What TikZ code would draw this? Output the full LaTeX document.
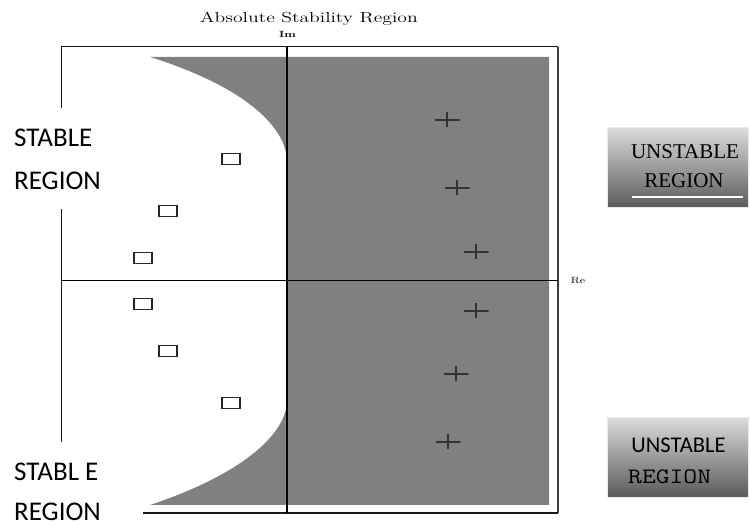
\documentclass[tikz,border=0pt]{standalone}
\usepackage{fontspec}
\newfontfamily\calibrif{Carlito}
\newfontfamily\timesf{Liberation Serif}
\usetikzlibrary{calc}
\tikzset{
  sqmark/.style={draw=black!85, fill=white, line width=1.1pt, minimum width=18pt, minimum height=11pt, inner sep=0pt},
  plusmark/.style={minimum width=25pt, minimum height=15pt, inner sep=0pt,
    path picture={\draw[line width=1.4pt, black!80] (path picture bounding box.west) -- (path picture bounding box.east)
      (path picture bounding box.north) -- (path picture bounding box.south);}},
  sidelabel/.style={font=\calibrif\fontsize{27}{27}\selectfont, inner sep=0pt, anchor=west},
  gradbox/.style={top color=black!14, bottom color=black!65, draw=black!8, line width=1pt, minimum width=141pt, minimum height=80pt, inner sep=0pt},
  frameline/.style={line width=1pt, black!90},
}
\begin{document}
\begin{tikzpicture}[x=1pt,y=1pt]
\useasboundingbox (0,0) rectangle (750,525);
% grey unstable region
\fill[black!50] (150,468) -- (549,468) -- (549,20) -- (150,20)
  .. controls (240,50) and (287,90) .. (287,125) -- (287,363)
  .. controls (287,400) and (240,440) .. (150,468) -- cycle;
% frame
\coordinate (tl) at (61,478);
\coordinate (tr) at (558,478);
\coordinate (br) at (558,12);
\coordinate (bl) at (143,12);
\coordinate (l1) at (61,417);
\coordinate (l2) at (61,316);
\coordinate (l3) at (61,83);
\draw[frameline] (l1) -- (tl) -- (tr);
\draw[line width=2pt, black!75] (tr) -- (br);
\draw[line width=1.4pt, black!90] (br) -- (bl);
\draw[frameline] (l2) -- (l3);
% axes
\coordinate (imtop) at (287,478);
\coordinate (imbot) at (287,12);
\coordinate (releft) at (61,244);
\coordinate (reright) at (558,244);
\draw[line width=1.2pt] (imtop) -- (imbot);
\draw[line width=1pt] (releft) -- (reright);
% labels
\node[inner sep=0pt] (title) at (309,506) {\scalebox{1.36}[1]{\fontsize{14.5}{14.5}\selectfont Absolute Stability Region}};
\node[inner sep=0pt] (im) at (287.5,490.5) {\scalebox{1.3}[1]{\fontsize{9}{9}\selectfont\bfseries Im}};
\node[inner sep=0pt] (re) at (578,244) {\scalebox{1.3}[1]{\fontsize{9}{9}\selectfont Re}};
% square markers
\node[sqmark] (s1) at (231,366) {};
\node[sqmark] (s2) at (168,314) {};
\node[sqmark] (s3) at (143,267) {};
\node[sqmark] (s4) at (143,221) {};
\node[sqmark] (s5) at (168,174) {};
\node[sqmark] (s6) at (231,122) {};
% plus markers
\node[plusmark] (p1) at (447,405) {};
\node[plusmark] (p2) at (457,337) {};
\node[plusmark] (p3) at (476,273) {};
\node[plusmark] (p4) at (476,214) {};
\node[plusmark] (p5) at (456,151) {};
\node[plusmark] (p6) at (448,83) {};
% stable labels
\node[sidelabel] (st1) at (14,387) {STABLE};
\node[sidelabel] (st2) at (14,344) {REGION};
\node[sidelabel] (st3) at (14,53) {STABL E};
\node[sidelabel] (st4) at (14,13) {REGION};
% unstable boxes
\node[gradbox] (ub1) at (677.5,357) {};
\node[inner sep=0pt, font=\timesf\fontsize{21}{21}\selectfont] (ub1a) at (685,373) {UNSTABLE};
\node[inner sep=0pt, font=\timesf\fontsize{21}{21}\selectfont] (ub1b) at (684,344) {REGION};
\coordinate (ul1) at (632,328);
\coordinate (ul2) at (743,328);
\draw[white, line width=1.3pt] (ul1) -- (ul2);
\node[gradbox] (ub2) at (678,67.5) {};
\node[inner sep=0pt, font=\calibrif\fontsize{22.5}{22.5}\selectfont] (ub2a) at (678.5,80) {UNSTABLE};
\node[inner sep=0pt, anchor=west] (ub2b) at (628,48) {\scalebox{1.22}[1]{\ttfamily\fontsize{22}{22}\selectfont REGION}};
\end{tikzpicture}
\end{document}
